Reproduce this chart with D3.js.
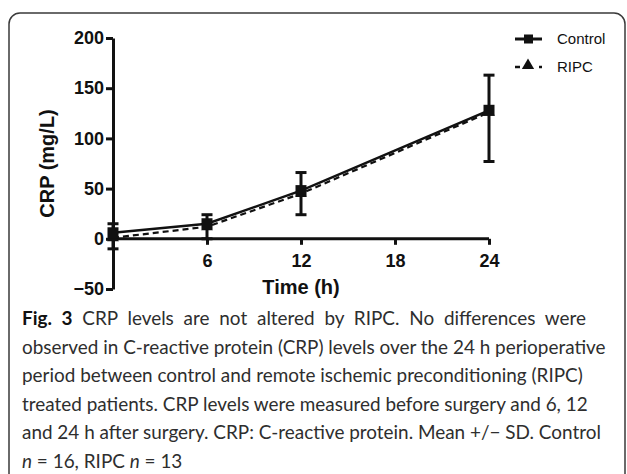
<!DOCTYPE html>
<html>
<head>
<meta charset="utf-8">
<script src="https://cdn.jsdelivr.net/npm/d3@7"></script>
<style>
html,body{margin:0;padding:0;background:#fff;}
svg{display:block;}
</style>
</head>
<body>
<svg id="chart" width="627" height="474"></svg>
<script>
// ---- data ----
const times = [0, 6, 12, 24];
const controlMean = [6, 15, 48, 128];
const controlSD   = [9, 9, 18, 35];
const ripcMean    = [1, 12, 45, 126];
const ripcSD      = [11, 12, 21, 49];
const yTicks = [-50, 0, 50, 100, 150, 200];
const xTicks = [6, 12, 18, 24];
const seriesNames = ["Control", "RIPC"];
const yTitle = "CRP (mg/L)";
const xTitle = "Time (h)";
const captionLines = [
  [{t:"Fig. 3", b:true}, {t:" CRP levels are not altered by RIPC. No differences were"}],
  [{t:"observed in C-reactive protein (CRP) levels over the 24 h perioperative"}],
  [{t:"period between control and remote ischemic preconditioning (RIPC)"}],
  [{t:"treated patients. CRP levels were measured before surgery and 6, 12"}],
  [{t:"and 24 h after surgery. CRP: C-reactive protein. Mean +/\u2212 SD. Control"}],
  [{t:"n", i:true}, {t:" = 16, RIPC "}, {t:"n", i:true}, {t:" = 13"}]
];

const svg = d3.select("#chart");
const ink = "#111";
const font = "'Liberation Sans', Arial, sans-serif";

// frame
svg.append("rect").attr("x", 9).attr("y", 13).attr("width", 616).attr("height", 520)
  .attr("rx", 11).attr("ry", 11).attr("fill", "none").attr("stroke", "#3a3a3a").attr("stroke-width", 1.5);

const x = d3.scaleLinear().domain([0, 24]).range([113, 489]);
const y = d3.scaleLinear().domain([-50, 200]).range([289, 38]);

// y axis
const gy = svg.append("g").attr("transform", `translate(${x(0)},0)`)
  .call(d3.axisLeft(y).tickValues(yTicks).tickSize(7).tickSizeOuter(0).tickPadding(2).tickFormat(d3.format("d")));
// x axis
const gx = svg.append("g").attr("transform", `translate(0,${y(0)})`)
  .call(d3.axisBottom(x).tickValues(xTicks).tickSize(6).tickSizeOuter(0).tickPadding(9));
[gy, gx].forEach(g => {
  g.select(".domain").attr("stroke", ink).attr("stroke-width", 3);
  g.selectAll(".tick line").attr("stroke", ink).attr("stroke-width", 3);
  g.selectAll(".tick text").attr("fill", ink).style("font", `bold 18px ${font}`);
});
gx.select(".domain").attr("d", `M${x(0)},0H${x(24)}`);

// titles
svg.append("text").attr("transform", `translate(54,${(y(-50)+y(200))/2}) rotate(-90)`)
  .attr("text-anchor", "middle").attr("fill", ink).style("font", `bold 20px ${font}`).text(yTitle);
svg.append("text").attr("x", 301).attr("y", 294)
  .attr("text-anchor", "middle").attr("fill", ink).style("font", `bold 20px ${font}`).text(xTitle);

const ctl = times.map((t, i) => ({t, m: controlMean[i], sd: controlSD[i]}));
const rip = times.map((t, i) => ({t, m: ripcMean[i], sd: ripcSD[i]}));
const line = d3.line().x(d => x(d.t)).y(d => y(d.m));

// error bars: control drawn above, RIPC drawn below
function errBars(data, dir) {
  const g = svg.append("g").attr("stroke", ink).attr("stroke-width", 3);
  data.forEach(d => {
    const end = y(d.m + dir * d.sd);
    g.append("line").attr("x1", x(d.t)).attr("x2", x(d.t)).attr("y1", y(d.m)).attr("y2", end);
    g.append("line").attr("x1", x(d.t) - 5.5).attr("x2", x(d.t) + 5.5).attr("y1", end).attr("y2", end);
  });
}
errBars(rip, -1);
errBars(ctl, 1);

// lines
svg.append("path").datum(rip).attr("d", line).attr("fill", "none")
  .attr("stroke", ink).attr("stroke-width", 2.2).attr("stroke-dasharray", "6,4");
svg.append("path").datum(ctl).attr("d", line).attr("fill", "none")
  .attr("stroke", ink).attr("stroke-width", 2.4);

// markers
const tri = d3.symbol().type(d3.symbolTriangle).size(60);
svg.append("g").selectAll("path").data(rip).join("path")
  .attr("transform", d => `translate(${x(d.t)},${y(d.m)})`).attr("d", tri()).attr("fill", ink);
svg.append("g").selectAll("rect").data(ctl).join("rect")
  .attr("x", d => x(d.t) - 5.5).attr("y", d => y(d.m) - 5.5).attr("width", 11).attr("height", 11).attr("fill", ink);

// legend
const lg = svg.append("g");
lg.append("line").attr("x1", 515).attr("x2", 542).attr("y1", 39).attr("y2", 39).attr("stroke", ink).attr("stroke-width", 3);
lg.append("rect").attr("x", 524).attr("y", 34.5).attr("width", 9).attr("height", 9).attr("fill", ink);
lg.append("line").attr("x1", 515).attr("x2", 520).attr("y1", 67).attr("y2", 67).attr("stroke", ink).attr("stroke-width", 2.5);
lg.append("path").attr("transform", "translate(528,65.5)").attr("d", d3.symbol().type(d3.symbolTriangle).size(65)()).attr("fill", ink);
lg.append("line").attr("x1", 539).attr("x2", 542).attr("y1", 67).attr("y2", 67).attr("stroke", ink).attr("stroke-width", 2.5);
lg.selectAll("text.lab").data(seriesNames).join("text").attr("class", "lab")
  .attr("x", 557).attr("y", (d, i) => 44 + i * 28).attr("fill", ink)
  .style("font", `15px ${font}`).text(d => d);

// caption
const capFont = "Lato, 'Open Sans', sans-serif";
const left = 22;
const texts = captionLines.map((parts, li) => {
  const txt = svg.append("text").attr("x", left).attr("y", 325 + li * 28.6)
    .attr("fill", "#2e2e2e").style("font-family", capFont).style("font-size", "17px");
  parts.forEach(p => {
    const ts = txt.append("tspan").text(p.t);
    if (p.b) ts.style("font-weight", "bold").attr("fill", "#111");
    if (p.i) ts.style("font-style", "italic");
  });
  return txt;
});
// fit size so that line 2 spans to x=606
const w2 = texts[1].node().getComputedTextLength();
const fs = 17 * (606 - left) / w2;
texts.forEach(t => t.style("font-size", fs + "px"));
// first line is spread out to x=586
const full1 = captionLines[0].map(p => p.t).join("");
const sp1 = (full1.match(/ /g) || []).length;
const w1 = texts[0].node().getComputedTextLength();
texts[0].attr("word-spacing", Math.max(0, (586 - left - w1) / sp1));
</script>
</body>
</html>
